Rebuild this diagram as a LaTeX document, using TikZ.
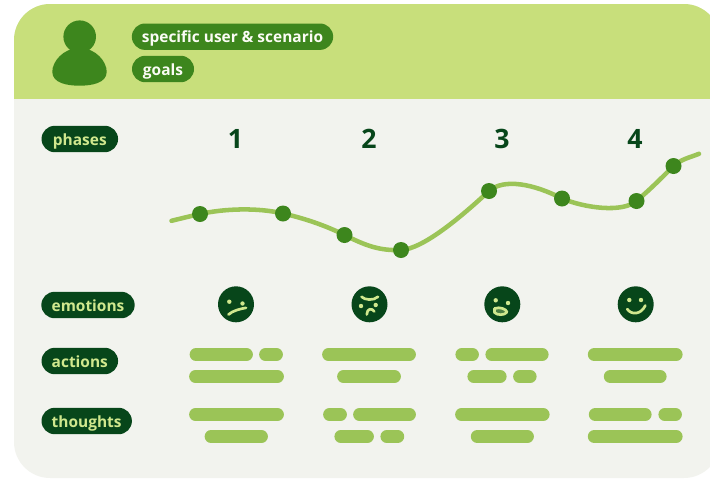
\documentclass[tikz,border=0pt]{standalone}
\usepackage{fontspec}
\setmainfont{Open Sans}
\definecolor{cardgray}{HTML}{F2F3EE}
\definecolor{headlime}{HTML}{C8DF7B}
\definecolor{darkleaf}{HTML}{07461A}
\definecolor{midleaf}{HTML}{3D861D}
\definecolor{barleaf}{HTML}{9BC457}
\definecolor{palelime}{HTML}{D0E88E}
\newcommand{\eyes}[4]{\fill[palelime] (#1,#2) circle (2.2) (#3,#4) circle (2.2);}

\begin{document}
\begin{tikzpicture}[x=0.75pt,y=-0.75pt]
  \tikzset{tag/.style={rounded corners=9.9pt,minimum height=19.8pt,inner sep=0pt,text height=10pt,text depth=1pt,text=palelime,fill=darkleaf,font=\bfseries\fontsize{11.6}{14}\selectfont},
           toptag/.style={tag,fill=midleaf,text=white!92!headlime},
           phase/.style={text=darkleaf,font=\bfseries\fontsize{20}{22}\selectfont},
           point/.style={circle,fill=midleaf,minimum size=12pt,inner sep=0pt},
           face/.style={circle,fill=darkleaf,minimum size=27pt,inner sep=0pt},
           mood/.style={draw=palelime,line width=2pt,line cap=round,line join=round},
           trace/.style={draw=barleaf,line width=3.4pt,line cap=round},
           blip/.style={draw=barleaf,line width=9.6pt,line cap=round}}
  \clip (0,0) rectangle (710,479);
  \fill[cardgray,rounded corners=27pt] (14,4) rectangle (720,478);
  \begin{scope}
    \clip (0,0) rectangle (710,98);
    \fill[headlime,rounded corners=27pt] (14,4) rectangle (720,478);
  \end{scope}
  % person
  \fill[midleaf] (79.7,36.7) circle (16.3);
  \fill[midleaf] (79.5,48) .. controls (96,48) and (107,62) .. (106.7,72) .. controls (106.5,83) and (92,85.7) .. (79.5,85.7)
        .. controls (67,85.7) and (52.5,83) .. (52.3,72) .. controls (52,62) and (63,48) .. cycle;
  \node[toptag,minimum width=151pt] (scenario) at (232.5,36.7) {specific user \& scenario};
  \node[toptag,minimum width=46.5pt] (goals) at (163,69) {goals};
  \node[tag,minimum width=57.4pt] (phases) at (79.8,139) {phases};
  \node[tag,minimum width=70pt] (emotions) at (88,305) {emotions};
  \node[tag,minimum width=57.4pt] (actions) at (79.8,361) {actions};
  \node[tag,minimum width=67.8pt] (thoughts) at (86.7,421) {thoughts};
  \node[phase] (one) at (235.5,139) {1};
  \node[phase] (two) at (369,139) {2};
  \node[phase] (three) at (502,139) {3};
  \node[phase] (four) at (635,139) {4};
  % journey
  \coordinate (t0) at (171.5,220.8);
  \coordinate (t9) at (699,153.8);
  \foreach \name/\xx/\yy in {t1/200/214,t2/283/213.5,t3/344.5/235,t4/401/250,t5/489/191,t6/562/198.5,t7/636.5/201,t8/673.5/166}
    \coordinate (\name) at (\xx,\yy);
  \draw[trace] (t0)..controls +(9,-2.2) and +(-9,2) ..(t1)
               ..controls +(25,-5.5) and +(-25,-6) ..(t2)
               ..controls +(20,4.5) and +(-20,-10) ..(t3)
               ..controls +(20,10) and +(-22,1) ..(t4)
               ..controls +(22,-1) and +(-28,26) ..(t5)
               ..controls +(15,-13) and +(-28,-14.5) ..(t6)
               ..controls +(23,9.5) and +(-14.5,12) ..(t7)
               ..controls +(14,-12) and +(-14,14) ..(t8)
               ..controls +(8,-7) and +(-10,4) ..(t9);
  \foreach \name in {t1,t2,t3,t4,t5,t6,t7,t8}
    \node[point] at (\name) {};
  % faces
  \node[face] (sad) at (236,304.3) {};
  \node[face] (angry) at (369.5,304.3) {};
  \node[face] (shout) at (502.3,304.3) {};
  \node[face] (happy) at (635.7,304.3) {};
  \eyes{229.3}{301.7}{242.5}{303.5}
  \draw[mood] (228.5,314.5) .. controls (233,310.5) and (240,309) .. (246,307.8);
  \eyes{361}{306}{375.7}{305}
  \draw[mood] (361.5,296.8) .. controls (365,300) and (373,301) .. (378,296.8);
  \draw[mood] (366.8,314.5) .. controls (367,308) and (372,308) .. (374.3,311.5);
  \eyes{495.7}{300.3}{508}{303}
  \draw[mood,fill=palelime!35!darkleaf] (494.5,308.5) .. controls (500,306.5) and (506,309) .. (507,312) .. controls (505,315.5) and (497,315.5) .. (494.5,312.5) -- cycle;
  \eyes{629.3}{300}{641}{300}
  \draw[mood] (627.2,309) .. controls (631,315) and (641,315) .. (645.3,305.5);
  % bars
  \foreach \xa/\xb/\yy in {189.5/253/354.5,259/283/354.5,189/284/376.5,189/284/414.5,204.5/268/436.5,
                           322/416/354.5,337/401/376.5,323/347/414.5,353/416/414.5,334.3/374/436.5,380.3/404.3/436.5,
                           455.3/479/354.5,485.3/548.7/354.5,467.3/506.7/376.5,513/536.7/376.5,455/549.7/414.5,470.7/534/436.5,
                           587.7/682.7/354.5,603.7/666.7/376.5,588.7/651.7/414.5,658.3/682/414.5,587.7/682.7/436.5}
    \draw[blip] ({\xa+6.5},\yy) -- ({\xb-6.5},\yy);
\end{tikzpicture}
\end{document}
